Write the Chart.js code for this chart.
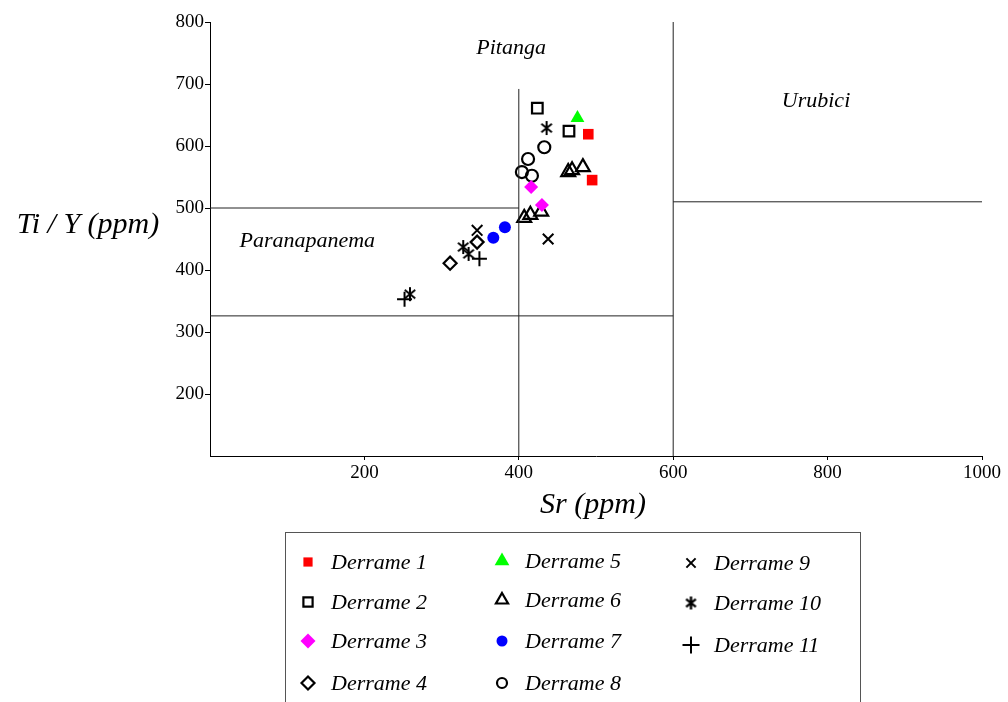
<!DOCTYPE html>
<html>
<head>
<meta charset="utf-8">
<script src="https://cdn.jsdelivr.net/npm/chart.js@4/dist/chart.umd.min.js"></script>
<style>html,body{margin:0;padding:0;background:#fff}</style>
</head>
<body>
<canvas id="grafico" width="1008" height="702"></canvas>
<script>
const d1Sr = [490, 495],            d1TiY = [619, 545];
const d2Sr = [424, 465],            d2TiY = [661, 624];
const d3Sr = [416, 430],            d3TiY = [534, 505];
const d4Sr = [311, 346],            d4TiY = [411, 445];
const d5Sr = [476],                 d5TiY = [645];
const d6Sr = [464, 469, 483, 407, 415, 429], d6TiY = [558, 561, 566, 484, 489, 494];
const d7Sr = [367, 382],            d7TiY = [452, 469];
const d8Sr = [433, 412, 404, 417],  d8TiY = [598, 579, 558, 552];
const d9Sr = [438, 346],            d9TiY = [450, 464];
const d10Sr = [436, 328, 335, 259], d10TiY = [629, 437, 426, 361];
const d11Sr = [349, 252],           d11TiY = [418, 353];

const nomes = ["Derrame 1", "Derrame 2", "Derrame 3", "Derrame 4", "Derrame 5", "Derrame 6",
               "Derrame 7", "Derrame 8", "Derrame 9", "Derrame 10", "Derrame 11"];

// limites dos campos (Sr, Ti/Y)
const limite1Sr = [0, 400],   limite1TiY = [500, 500];
const limite2Sr = [0, 600],   limite2TiY = [326, 326];
const limite3Sr = [400, 400], limite3TiY = [100, 692];
const limite4Sr = [600, 600], limite4TiY = [100, 800];
const limite5Sr = [600, 1000], limite5TiY = [510, 510];

const campos = ["Pitanga", "Urubici", "Paranapanema"];
const camposSr = [390, 785, 126];
const camposTiY = [758, 673, 447];

const xTicks = [200, 400, 600, 800, 1000];
const yTicks = [200, 300, 400, 500, 600, 700, 800];

function asterisco(tam, lw) {
    const c = document.createElement("canvas");
    c.width = tam; c.height = tam;
    const g = c.getContext("2d");
    g.strokeStyle = "#000";
    g.lineWidth = lw;
    const m = tam / 2, r = tam / 2 - 1;
    g.beginPath();
    g.moveTo(m, m - r); g.lineTo(m, m + r);
    g.moveTo(m - r * 0.75, m - r * 0.6); g.lineTo(m + r * 0.75, m + r * 0.6);
    g.moveTo(m + r * 0.75, m - r * 0.6); g.lineTo(m - r * 0.75, m + r * 0.6);
    g.stroke();
    return c;
}

const vazio = "rgba(0,0,0,0)";
const estilos = [
    { pointStyle: "rect", radius: 7.5, fill: "#ff0000", stroke: "#ff0000", bw: 0, lr: 6.5 },
    { pointStyle: "rect", radius: 7.5, fill: vazio, stroke: "#000", bw: 2.2, lr: 6.5 },
    { pointStyle: "rectRot", radius: 7, fill: "#ff00ff", stroke: "#ff00ff", bw: 0, lr: 7.5 },
    { pointStyle: "rectRot", radius: 6.5, fill: vazio, stroke: "#000", bw: 2.2, lr: 6.5 },
    { pointStyle: "triangle", radius: 8, fill: "#00ff00", stroke: "#00ff00", bw: 0, lr: 8.5 },
    { pointStyle: "triangle", radius: 8, fill: vazio, stroke: "#000", bw: 2.2, lr: 7 },
    { pointStyle: "circle", radius: 6, fill: "#0000ff", stroke: "#0000ff", bw: 0, lr: 5.5 },
    { pointStyle: "circle", radius: 6, fill: vazio, stroke: "#000", bw: 2.2, lr: 5 },
    { pointStyle: "crossRot", radius: 7.5, fill: vazio, stroke: "#000", bw: 2, lr: 6.5 },
    { pointStyle: asterisco(16, 2), radius: 8, fill: vazio, stroke: "#000", bw: 2, lr: 7, img2: asterisco(15, 2.4) },
    { pointStyle: "cross", radius: 7.5, fill: vazio, stroke: "#000", bw: 2, lr: 8.5 }
];

const series = [
    [d1Sr, d1TiY], [d2Sr, d2TiY], [d3Sr, d3TiY], [d4Sr, d4TiY], [d5Sr, d5TiY], [d6Sr, d6TiY],
    [d7Sr, d7TiY], [d8Sr, d8TiY], [d9Sr, d9TiY], [d10Sr, d10TiY], [d11Sr, d11TiY]
];

const pontos = (xs, ys) => xs.map((v, i) => ({ x: v, y: ys[i] }));

const limites = [
    [limite1Sr, limite1TiY], [limite2Sr, limite2TiY], [limite3Sr, limite3TiY],
    [limite4Sr, limite4TiY], [limite5Sr, limite5TiY]
].map(l => ({
    type: "line",
    data: pontos(l[0], l[1]),
    showLine: true,
    borderColor: "#222",
    borderWidth: 1,
    pointRadius: 0,
    pointHoverRadius: 0,
    fill: false
}));

const derrames = series.map((s, i) => ({
    label: nomes[i],
    data: pontos(s[0], s[1]),
    pointStyle: estilos[i].pointStyle,
    pointRadius: estilos[i].radius,
    pointBackgroundColor: estilos[i].fill,
    pointBorderColor: estilos[i].stroke,
    pointBorderWidth: estilos[i].bw,
    showLine: false
}));

const fonteSerif = "'Liberation Serif', 'DejaVu Serif', serif";

const textosPlugin = {
    id: "textos",
    afterDraw(chart) {
        const ctx = chart.ctx;
        const sx = chart.scales.x, sy = chart.scales.y;
        ctx.save();
        ctx.fillStyle = "#000";
        ctx.textAlign = "center";
        ctx.textBaseline = "middle";
        ctx.font = "italic 22px " + fonteSerif;
        campos.forEach((t, i) => {
            ctx.fillText(t, sx.getPixelForValue(camposSr[i]), sy.getPixelForValue(camposTiY[i]));
        });
        ctx.font = "italic 30px " + fonteSerif;
        ctx.fillText("Ti / Y (ppm)", 88, 225);
        ctx.fillText("Sr (ppm)", 593, 505);

        // legenda
        ctx.strokeStyle = "#555";
        ctx.lineWidth = 1;
        ctx.strokeRect(285.5, 532.5, 575, 200);
        const colX = [308, 502, 691];
        const rowY = [[562, 602, 641, 683], [561, 600, 641, 683], [563, 603, 645]];
        ctx.font = "italic 22px " + fonteSerif;
        ctx.textAlign = "left";
        nomes.forEach((n, i) => {
            const c = i < 4 ? 0 : (i < 8 ? 1 : 2);
            const r = c === 2 ? i - 8 : i - c * 4;
            const x = colX[c], y = rowY[c][r];
            const e = estilos[i];
            ctx.fillStyle = e.fill;
            ctx.strokeStyle = e.stroke;
            ctx.lineWidth = e.bw;
            Chart.helpers.drawPoint(ctx, {
                pointStyle: e.img2 || e.pointStyle,
                radius: e.lr,
                rotation: 0,
                borderWidth: e.bw
            }, x, y);
            ctx.fillStyle = "#000";
            ctx.fillText(n, x + 23, y + 1);
        });
        ctx.restore();
    }
};

const ctx = document.getElementById("grafico").getContext("2d");
new Chart(ctx, {
    type: "scatter",
    data: { datasets: limites.concat(derrames) },
    options: {
        responsive: false,
        animation: false,
        events: [],
        layout: { padding: { left: 160, right: 26, top: 22, bottom: 216 } },
        plugins: { legend: { display: false }, tooltip: { enabled: false } },
        scales: {
            x: {
                type: "linear",
                min: 0,
                max: 1000,
                afterFit: s => { s.height = 30; },
                afterBuildTicks: s => { s.ticks = xTicks.map(v => ({ value: v })); },
                border: { display: true, color: "#000", width: 1 },
                grid: { display: true, drawOnChartArea: false, color: "#000", tickLength: 4 },
                ticks: { color: "#000", padding: 2, callback: v => String(v), font: { family: fonteSerif, size: 19 } }
            },
            y: {
                type: "linear",
                min: 100,
                max: 800,
                afterFit: s => { s.width = 50; },
                afterBuildTicks: s => { s.ticks = yTicks.map(v => ({ value: v })); },
                border: { display: true, color: "#000", width: 1 },
                grid: { display: true, drawOnChartArea: false, color: "#000", tickLength: 5 },
                ticks: { color: "#000", padding: 1, callback: v => String(v), font: { family: fonteSerif, size: 19 } }
            }
        }
    },
    plugins: [textosPlugin]
});
</script>
</body>
</html>
